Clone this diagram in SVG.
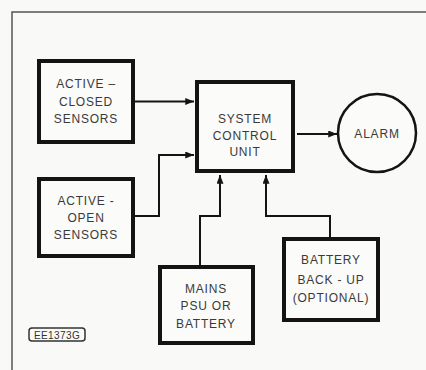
<svg xmlns="http://www.w3.org/2000/svg" width="426" height="370" viewBox="0 0 426 370">
<defs>
<style>
.box{fill:#fbfbf9;stroke:#141414;stroke-width:4}
.ln{fill:none;stroke:#141414;stroke-width:2}
.t{font-family:"Liberation Sans",Arial,sans-serif;font-size:12px;fill:#3a3a3a;text-anchor:middle;letter-spacing:0.8px}
</style>
<marker id="ah" viewBox="0 0 10 8" refX="10" refY="4" markerWidth="9" markerHeight="7" markerUnits="userSpaceOnUse" orient="auto">
<path d="M0,0 L10,4 L0,8 Z" fill="#141414"/>
</marker>
</defs>
<rect width="426" height="370" fill="#f9f9f7"/>
<path d="M12,370 V12 H426" fill="none" stroke="#555" stroke-width="1.5"/>
<g id="connectors">
<path class="ln" d="M135,101.5 H194" marker-end="url(#ah)"/>
<path class="ln" d="M135,216 H159 V155 H194" marker-end="url(#ah)"/>
<path class="ln" d="M200,265 V216 H220 V175" marker-end="url(#ah)"/>
<path class="ln" d="M330,237 V216 H266 V175" marker-end="url(#ah)"/>
<path class="ln" d="M297,134 H337" marker-end="url(#ah)"/>
</g>
<g id="active-closed">
<rect class="box" x="39" y="61" width="94" height="81"/>
<text class="t" x="86" y="88">ACTIVE –</text>
<text class="t" x="86" y="106">CLOSED</text>
<text class="t" x="86" y="123">SENSORS</text>
</g>
<g id="active-open">
<rect class="box" x="39" y="179" width="94" height="77"/>
<text class="t" x="86" y="205">ACTIVE -</text>
<text class="t" x="86" y="222">OPEN</text>
<text class="t" x="86" y="239">SENSORS</text>
</g>
<g id="system-control">
<rect class="box" x="197" y="82" width="96" height="89"/>
<text class="t" x="245" y="123">SYSTEM</text>
<text class="t" x="245" y="140">CONTROL</text>
<text class="t" x="245" y="156">UNIT</text>
</g>
<g id="alarm">
<circle cx="377" cy="133" r="39" fill="#fbfbf9" stroke="#141414" stroke-width="2.5"/>
<text class="t" x="377" y="138">ALARM</text>
</g>
<g id="mains">
<rect class="box" x="160" y="267" width="93" height="76"/>
<text class="t" x="206" y="293">MAINS</text>
<text class="t" x="206" y="310">PSU OR</text>
<text class="t" x="206" y="328">BATTERY</text>
</g>
<g id="battery-backup">
<rect class="box" x="284" y="239" width="94" height="81"/>
<text class="t" x="331" y="264">BATTERY</text>
<text class="t" x="331" y="284">BACK - UP</text>
<text class="t" x="331" y="302">(OPTIONAL)</text>
</g>
<g id="ref-label">
<rect x="29" y="328" width="56" height="13" rx="3" fill="none" stroke="#333" stroke-width="1.5"/>
<text x="57" y="338.5" style="font-family:'Liberation Sans',Arial,sans-serif;font-size:10px;fill:#333;text-anchor:middle;letter-spacing:0.4px">EE1373G</text>
</g>
</svg>
